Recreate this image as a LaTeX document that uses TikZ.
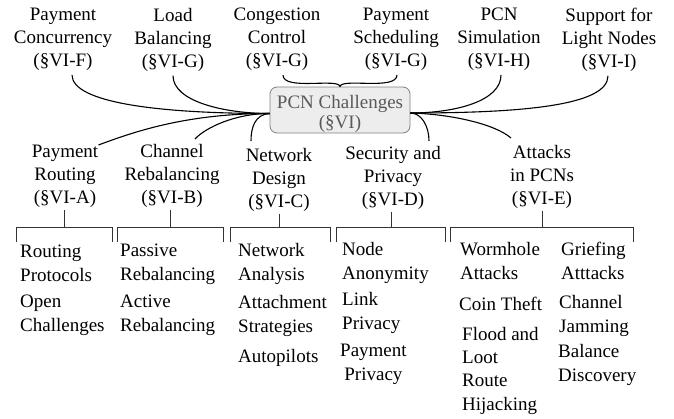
\documentclass[tikz,border=0pt]{standalone}
\usepackage{fontspec}
\setmainfont{Liberation Serif}
\usetikzlibrary{calc}
\begin{document}
\begin{tikzpicture}[x=1pt,y=-1pt,
  cat/.style={font=\rmfamily\fontsize{19}{23}\selectfont, inner sep=0pt, align=center, anchor=north},
  itm/.style={font=\rmfamily\fontsize{19}{24}\selectfont, inner sep=0pt, align=left, anchor=north west},
  con/.style={line width=1.1pt, black},
  brk/.style={line width=0.9pt, black!80},
  pbox/.style={draw=black!50, fill=black!7, rounded corners=7pt, line width=0.8pt, inner sep=0pt,
    minimum width=140pt, minimum height=46pt, align=center, text=black!65, font=\rmfamily\fontsize{19}{20}\selectfont}]
\useasboundingbox (0,0) rectangle (674,418);

% central box
\node[pbox] (pcn) at (340,110) {\rule{0pt}{21.5pt}PCN Challenges\\(§VI)};

% top categories
\node[cat] (pc)  at (63,8)  {Payment\\Concurrency\\(§VI-F)};
\node[cat] (lb)  at (173,8) {Load\\Balancing\\(§VI-G)};
\node[cat] (cc)  at (277,8) {Congestion\\Control\\(§VI-G)};
\node[cat] (ps)  at (396,8) {Payment\\Scheduling\\(§VI-G)};
\node[cat] (sim) at (499,8) {PCN\\Simulation\\(§VI-H)};
\node[cat] (sup) at (609,8) {Support for\\Light Nodes\\(§VI-I)};

% bottom categories
\node[cat] (prc) at (65,145)  {Payment\\Routing\\(§VI-A)};
\node[cat] (crc) at (172,144) {Channel\\Rebalancing\\(§VI-B)};
\node[cat] (ndc) at (279,148) {Network\\Design\\(§VI-C)};
\node[cat] (spc) at (393,146) {Security and\\Privacy\\(§VI-D)};
\node[cat] (apc) at (542,145) {Attacks\\in PCNs\\(§VI-E)};

\coordinate (L) at ($(pcn.west)+(0,3.5)$);
\coordinate (R) at ($(pcn.east)+(0,3)$);

% top connectors
\draw[con] ($(pc.south)+(9,4)$) .. controls +(0,28) and +(-110,0) .. (L);
\draw[con] ($(lb.south)+(0,4)$) .. controls +(0,26) and +(-45,0) .. (L);
\draw[con] ($(cc.south)+(6,4)$) .. controls +(0,16) and +(-1,-9) .. (pcn.north);
\draw[con] ($(ps.south)+(1,4)$) .. controls +(0,16) and +(1,-9) .. (pcn.north);
\draw[con] ($(sim.south)+(2,4)$) .. controls +(0,26) and +(45,0) .. (R);
\draw[con] ($(sup.south)+(-1,4)$) .. controls +(0,30) and +(110,0) .. (R);

% bottom connectors
\draw[con] (L) .. controls +(-80,0) and +(40,-15) .. (prc.north east);
\draw[con] (L) .. controls +(-35,0) and +(10,-11) .. ($(crc.north)+(23,-5)$);
\draw[con] (L) .. controls +(-15,1) and +(0,-13) .. ($(ndc.north)+(-28,-7)$);
\draw[con] (R) .. controls +(11,0) and +(0,-15) .. ($(spc.north)+(36,-5)$);
\draw[con] (R) .. controls +(40,1) and +(-16,-14) .. ($(apc.north)+(-31,-7)$);

% brackets
\coordinate (b1) at (64,227);
\coordinate (b2) at (170,227);
\coordinate (b3) at (279,227);
\coordinate (b4) at (391,227);
\coordinate (b5) at (542,227);
\draw[brk] (b1 |- prc.south) ++(0,2) -- (b1);
\draw[brk] (b2 |- crc.south) ++(0,2) -- (b2);
\draw[brk] (b3 |- ndc.south) ++(0,2) -- (b3);
\draw[brk] (b4 |- spc.south) ++(0,2) -- (b4);
\draw[brk] (b5 |- apc.south) ++(0,2) -- (b5);
\draw[brk] (16,242) -- (16,227) -- (112,227) -- (112,242);
\draw[brk] (117,242) -- (117,227) -- (223,227) -- (223,242);
\draw[brk] (230,242) -- (230,227) -- (330,227) -- (330,242);
\draw[brk] (336,242) -- (336,227) -- (445,227) -- (445,242);
\draw[brk] (450,242) -- (450,227) -- (633,227) -- (633,242);

% items
\node[itm] (i1) at (20,245) {Routing\\Protocols};
\node[itm] (i2) at (20,295) {Open\\Challenges};
\node[itm] (i3) at (120,244) {Passive\\Rebalancing};
\node[itm] (i4) at (120,295) {Active\\Rebalancing};
\node[itm] (i5) at (238,243) {Network\\Analysis};
\node[itm] (i6) at (238,295) {Attachment\\Strategies};
\node[itm] (i7) at (238,349) {Autopilots};
\node[itm] (i8) at (342,242) {Node\\Anonymity};
\node[itm] (i9) at (342,292) {Link\\Privacy};
\node[itm, align=center] (i10) at (340,344) {Payment\\Privacy};
\node[itm] (i11) at (460,242) {Wormhole\\Attacks};
\node[itm] (i12) at (459,297) {Coin Theft};
\node[itm, font=\rmfamily\fontsize{19}{23}\selectfont] (i13) at (462,327) {Flood and\\Loot};
\node[itm] (i14) at (462,374) {Route\\Hijacking};
\node[itm] (i15) at (561,242) {Griefing\\Atttacks};
\node[itm] (i16) at (559,295) {Channel\\Jamming};
\node[itm] (i17) at (558,344) {Balance\\Discovery};
\end{tikzpicture}
\end{document}
